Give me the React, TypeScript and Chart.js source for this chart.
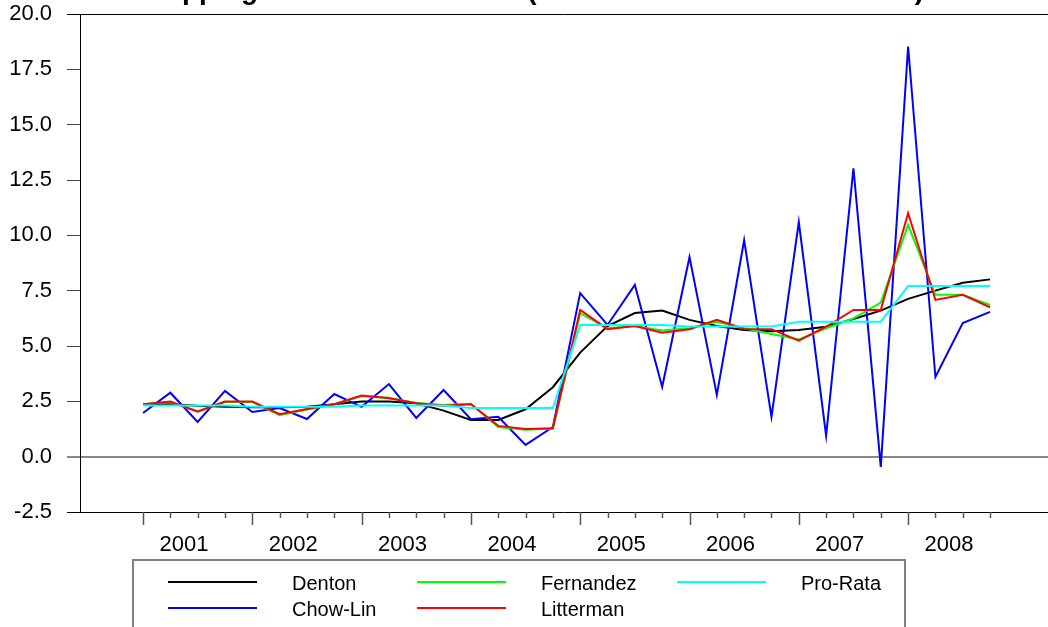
import React, { useEffect, useRef } from "react";
import { Chart, registerables } from "chart.js";

Chart.register(...registerables);

const titleText = "Shopping Centre Retail Sales (All Five Methods Contrasted)";
const years = ["2001", "2002", "2003", "2004", "2005", "2006", "2007", "2008"];
const quarters = years.flatMap((y) => ["Q1", "Q2", "Q3", "Q4"].map((q) => `${y}${q}`));
const yTickValues = [-2.5, 0, 2.5, 5, 7.5, 10, 12.5, 15, 17.5, 20];

const denton = [2.37, 2.37, 2.30, 2.26, 2.23, 2.23, 2.26, 2.37, 2.49, 2.49, 2.41, 2.08, 1.66, 1.66, 2.14, 3.14, 4.70, 5.90, 6.49, 6.60, 6.18, 5.90, 5.72, 5.67, 5.72, 5.87, 6.22, 6.60, 7.13, 7.50, 7.86, 8.01];
const chowLin = [1.97, 2.89, 1.57, 2.97, 2.02, 2.20, 1.70, 2.83, 2.25, 3.28, 1.75, 3.01, 1.69, 1.80, 0.53, 1.34, 7.39, 5.95, 7.76, 3.15, 9.02, 2.79, 9.78, 1.80, 10.60, 0.95, 13.03, -0.46, 18.53, 3.60, 6.04, 6.54];
const fernandez = [2.37, 2.47, 2.05, 2.47, 2.47, 1.87, 2.13, 2.37, 2.74, 2.66, 2.43, 2.33, 2.39, 1.34, 1.22, 1.27, 6.48, 5.80, 5.90, 5.70, 5.80, 6.10, 5.80, 5.54, 5.30, 5.80, 6.25, 6.96, 10.47, 7.31, 7.31, 6.86];
const litterman = [2.37, 2.49, 2.03, 2.49, 2.49, 1.92, 2.15, 2.37, 2.76, 2.64, 2.41, 2.30, 2.37, 1.39, 1.25, 1.28, 6.63, 5.76, 5.90, 5.60, 5.76, 6.18, 5.77, 5.76, 5.24, 5.87, 6.63, 6.63, 11.00, 7.08, 7.31, 6.75];
const proRata = [2.31, 2.31, 2.31, 2.31, 2.25, 2.25, 2.25, 2.25, 2.31, 2.31, 2.31, 2.31, 2.20, 2.20, 2.20, 2.20, 5.95, 5.95, 5.95, 5.95, 5.88, 5.88, 5.88, 5.88, 6.10, 6.10, 6.10, 6.10, 7.71, 7.71, 7.71, 7.71];

const seriesNames = ["Denton", "Chow-Lin", "Fernandez", "Litterman", "Pro-Rata"];
const seriesColors = ["#000000", "#0000ff", "#00ff00", "#ff0000", "#00ffff"];
const seriesValues = [denton, chowLin, fernandez, litterman, proRata];

const FONT = "'Liberation Sans', Arial, Helvetica, sans-serif";

const titlePlugin = {
  id: "cutTitle",
  afterDraw(chart: any) {
    const ctx = chart.ctx;
    ctx.save();
    ctx.font = `bold 28px ${FONT}`;
    ctx.fillStyle = "#000";
    ctx.textAlign = "left";
    ctx.textBaseline = "alphabetic";
    ctx.fillText(titleText, 129, -1);
    ctx.restore();
  },
};

const xTickPlugin = {
  id: "quarterTicks",
  afterDraw(chart: any) {
    const ctx = chart.ctx;
    const xs = chart.scales.x;
    const bottom = chart.chartArea.bottom;
    ctx.save();
    ctx.strokeStyle = "#555";
    ctx.lineWidth = 1.5;
    quarters.forEach((_, i) => {
      const x = Math.round(xs.getPixelForValue(i)) + 0.5;
      ctx.beginPath();
      ctx.moveTo(x, bottom);
      ctx.lineTo(x, bottom + (i % 4 === 0 ? 13 : 6));
      ctx.stroke();
    });
    ctx.restore();
  },
};

const legendPlugin = {
  id: "boxLegend",
  afterDraw(chart: any) {
    const ctx = chart.ctx;
    ctx.save();
    ctx.strokeStyle = "#808080";
    ctx.lineWidth = 2;
    ctx.strokeRect(133, 560, 772, 90);
    const cols = [
      { line: 168, text: 292 },
      { line: 417, text: 541 },
      { line: 677, text: 801 },
    ];
    const rows = [582, 608];
    ctx.font = `20px ${FONT}`;
    ctx.textAlign = "left";
    ctx.textBaseline = "middle";
    chart.data.datasets.forEach((ds: any, i: number) => {
      const col = cols[Math.floor(i / 2)];
      const y = rows[i % 2];
      ctx.strokeStyle = ds.borderColor;
      ctx.lineWidth = 2;
      ctx.beginPath();
      ctx.moveTo(col.line, y);
      ctx.lineTo(col.line + 89, y);
      ctx.stroke();
      ctx.fillStyle = "#000";
      ctx.fillText(ds.label, col.text, y + 2);
    });
    ctx.restore();
  },
};

export default function App() {
  const canvasRef = useRef<HTMLCanvasElement | null>(null);

  useEffect(() => {
    if (!canvasRef.current) return;
    const chart = new Chart(canvasRef.current, {
      type: "line",
      data: {
        datasets: seriesNames.map((name, i) => ({
          label: name,
          data: seriesValues[i].map((v, k) => ({ x: k, y: v })),
          borderColor: seriesColors[i],
          backgroundColor: seriesColors[i],
          borderWidth: 2,
          pointRadius: 0,
          tension: 0,
          fill: false,
          order: seriesNames.length - i,
        })),
      },
      options: {
        animation: false,
        responsive: true,
        maintainAspectRatio: false,
        devicePixelRatio: 1,
        layout: { autoPadding: false, padding: { top: 14, left: 0, right: 0, bottom: 0 } },
        plugins: {
          legend: { display: false },
          title: { display: false },
          tooltip: { enabled: false },
        },
        scales: {
          x: {
            type: "linear",
            min: -2.306,
            max: 33.12,
            grid: { display: false, drawTicks: false },
            border: { display: false },
            afterBuildTicks: (scale: any) => {
              scale.ticks = years.map((_, k) => ({ value: 1.5 + 4 * k }));
            },
            afterFit: (scale: any) => {
              scale.height = 115;
              scale.paddingLeft = 0;
              scale.paddingRight = 0;
            },
            ticks: {
              autoSkip: false,
              maxRotation: 0,
              padding: 20,
              color: "#000",
              font: { family: FONT, size: 22 },
              callback: (_v: any, index: number) => years[index],
            },
          },
          y: {
            type: "linear",
            min: -2.5,
            max: 20,
            afterBuildTicks: (scale: any) => {
              scale.ticks = yTickValues.map((v) => ({ value: v }));
            },
            afterFit: (scale: any) => {
              scale.width = 80;
              scale.paddingTop = 0;
              scale.paddingBottom = 0;
            },
            border: { display: true, color: "#000", width: 1 },
            grid: {
              drawOnChartArea: true,
              drawTicks: true,
              tickLength: 13,
              color: (c: any) => {
                const v = c.tick ? c.tick.value : null;
                if (v === 0) return "#888888";
                if (v === 20 || v === -2.5) return "#000000";
                return "rgba(0,0,0,0)";
              },
              tickColor: (c: any) => {
                const v = c.tick ? c.tick.value : null;
                if (v === 0) return "#888888";
                if (v === 20 || v === -2.5) return "#000000";
                return "#444444";
              },
              lineWidth: (c: any) => (c.tick && c.tick.value === 0 ? 2 : 1),
            },
            ticks: {
              padding: 15,
              color: "#000",
              font: { family: FONT, size: 22 },
              callback: (v: any) => Number(v).toFixed(1),
            },
          },
        },
      },
      plugins: [xTickPlugin, legendPlugin, titlePlugin],
    } as any);
    return () => chart.destroy();
  }, []);

  return (
    <div style={{ position: "absolute", left: 0, top: 0, width: 1048, height: 627, background: "#fff" }}>
      <canvas ref={canvasRef} />
    </div>
  );
}
